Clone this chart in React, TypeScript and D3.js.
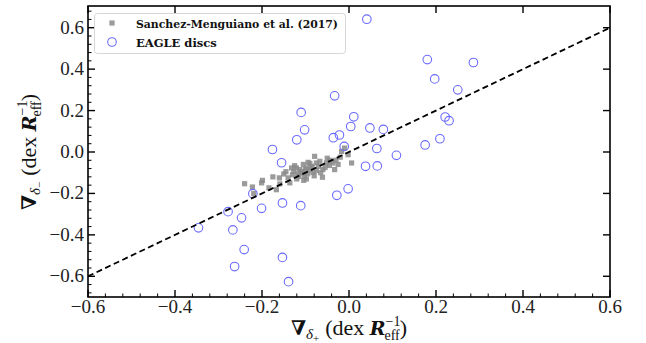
import React from "react";
import * as d3 from "d3";

const eagleX = [0.041, 0.180, 0.286, 0.197, 0.250, 0.221, 0.230, 0.048, 0.079, 0.209, 0.175, 0.064, 0.109, 0.038, 0.065,
  -0.033, 0.011, 0.004, -0.036, -0.022, -0.011, -0.110, -0.102, -0.120, -0.176, -0.155, -0.221, -0.028, -0.002,
  -0.153, -0.201, -0.111, -0.278, -0.247, -0.346, -0.267, -0.241, -0.153, -0.263, -0.139];
const eagleY = [0.641, 0.446, 0.432, 0.353, 0.300, 0.169, 0.151, 0.116, 0.109, 0.064, 0.034, 0.017, -0.016, -0.069, -0.067,
  0.271, 0.170, 0.123, 0.069, 0.082, 0.027, 0.191, 0.107, 0.059, 0.012, -0.052, -0.201, -0.209, -0.178,
  -0.246, -0.272, -0.259, -0.288, -0.318, -0.366, -0.376, -0.471, -0.509, -0.553, -0.626];

const smX = [-0.240, -0.222, -0.199, -0.201, -0.175, -0.184, -0.167, -0.159, -0.150, -0.136, -0.132, -0.127, -0.121, -0.113,
  -0.107, -0.102, -0.104, -0.098, -0.094, -0.086, -0.083, -0.079, -0.075, -0.067, -0.061, -0.060, -0.052, -0.044, -0.037,
  -0.033, -0.017, -0.002, 0.006, -0.010, -0.098, -0.115, -0.125, -0.090, -0.110, -0.095, -0.085, -0.070, -0.065, -0.118,
  -0.140, -0.145, -0.105, -0.090, -0.055, -0.045, -0.030, -0.025, -0.080, -0.100, -0.120, -0.130, -0.075, -0.050, -0.160,
  -0.020, -0.219];
const smY = [-0.153, -0.169, -0.137, -0.149, -0.120, -0.173, -0.182, -0.154, -0.106, -0.149, -0.077, -0.093, -0.077, -0.085,
  -0.101, -0.118, -0.137, -0.077, -0.050, -0.069, -0.098, -0.021, -0.053, -0.045, -0.122, -0.085, -0.053, -0.040, -0.053,
  -0.085, 0.003, -0.013, -0.053, 0.019, -0.130, -0.118, -0.066, -0.085, -0.095, -0.105, -0.075, -0.070, -0.100, -0.105,
  -0.125, -0.095, -0.060, -0.055, -0.075, -0.065, -0.040, -0.060, -0.115, -0.085, -0.130, -0.110, -0.090, -0.030, -0.125,
  -0.025, -0.200];

const xTicks = [-0.6, -0.4, -0.2, 0.0, 0.2, 0.4, 0.6];
const yTicks = [-0.6, -0.4, -0.2, 0.0, 0.2, 0.4, 0.6];
const oneToOne = [-0.6, 0.6];
const legendLabels = ["Sanchez-Menguiano et al. (2017)", "EAGLE discs"];

const W = 646, H = 343;
const L = 88, R = 610, T = 6, B = 297;

function fmt(v: number) {
  const s = Math.abs(v).toFixed(1);
  return v < -1e-9 ? "\u2212" + s : s;
}

function AxisLabel({ sub }: { sub: string }) {
  return (
    <>
      <tspan fontFamily="'DejaVu Serif', serif" fontWeight="bold" fontSize={20}>{"\u2207"}</tspan>
      <tspan fontStyle="italic" fontSize={15} dy={4}>{"\u03B4"}</tspan>
      <tspan fontSize={11} dy={3}>{sub}</tspan>
      <tspan dy={-7} dx={6}>(dex </tspan>
      <tspan fontFamily="'DejaVu Serif', serif" fontWeight="bold" fontStyle="italic" fontSize={19}>R</tspan>
      <tspan fontSize={14} dy={-9}>{"\u22121"}</tspan>
      <tspan fontSize={14} dy={14} dx={-16}>eff</tspan>
      <tspan dy={-5}>)</tspan>
    </>
  );
}

export default function App() {
  const x = d3.scaleLinear().domain([-0.6, 0.6]).range([L, R]);
  const y = d3.scaleLinear().domain([-0.7, 0.7]).range([B, T + 1]);
  const xMinor = d3.range(-0.6, 0.6001, 0.04).filter(v => !xTicks.some(t => Math.abs(t - v) < 1e-6));
  const yMinor = d3.range(-0.68, 0.6801, 0.04).filter(v => !yTicks.some(t => Math.abs(t - v) < 1e-6));
  const serif = "'DejaVu Serif', 'Liberation Serif', serif";
  const tickFont = "'Liberation Serif', serif";
  const blue = "#6b6bff";
  const grey = "#8a8a8a";
  const line = d3.line<number>().x(d => x(d)).y(d => y(d));
  return (
    <svg width={W} height={H} style={{ position: "absolute", left: 0, top: 0, background: "#fff" }}>
      <rect x={0} y={0} width={W} height={H} fill="#fff" />
      {smX.map((v, i) => (
        <rect key={"s" + i} x={x(v) - 2.6} y={y(smY[i]) - 2.6} width={5.2} height={5.2} fill={grey} fillOpacity={0.85} />
      ))}
      {eagleX.map((v, i) => (
        <circle key={"e" + i} cx={x(v)} cy={y(eagleY[i])} r={4.3} fill="none" stroke={blue} strokeWidth={1.1} />
      ))}
      <path d={line(oneToOne) || ""} stroke="#000" strokeWidth={1.8} strokeDasharray="6,3.5" fill="none" />
      <rect x={L} y={T} width={R - L} height={B - T} fill="none" stroke="#000" strokeWidth={1.6} />
      {xTicks.map(t => (
        <g key={"xt" + t}>
          <line x1={x(t)} x2={x(t)} y1={B} y2={B - 7} stroke="#000" strokeWidth={1.4} />
          <line x1={x(t)} x2={x(t)} y1={T} y2={T + 7} stroke="#000" strokeWidth={1.4} />
          <text x={x(t)} y={313} textAnchor="middle" fontFamily={tickFont} fontSize={19} fill="#222">{fmt(t)}</text>
        </g>
      ))}
      {xMinor.map(t => (
        <line key={"xm" + t} x1={x(t)} x2={x(t)} y1={B} y2={B - 3.5} stroke="#000" strokeWidth={1} />
      ))}
      {yTicks.map(t => (
        <g key={"yt" + t}>
          <line x1={L} x2={L + 7} y1={y(t)} y2={y(t)} stroke="#000" strokeWidth={1.4} />
          <line x1={R} x2={R - 7} y1={y(t)} y2={y(t)} stroke="#000" strokeWidth={1.4} />
          <text x={84} y={y(t) + 6} textAnchor="end" fontFamily={tickFont} fontSize={19} fill="#222">{fmt(t)}</text>
        </g>
      ))}
      {yMinor.map(t => (
        <line key={"ym" + t} x1={L} x2={L + 3.5} y1={y(t)} y2={y(t)} stroke="#000" strokeWidth={1} />
      ))}
      <rect x={94.5} y={13.5} width={251} height={40} rx={3} fill="#fff" fillOpacity={0.85} stroke="#d6d6d6" strokeWidth={1} />
      <rect x={112 - 2.6} y={23 - 2.6} width={5.2} height={5.2} fill={grey} fillOpacity={0.85} />
      <circle cx={112} cy={42} r={4.3} fill="none" stroke={blue} strokeWidth={1.1} />
      <text x={136} y={27.5} fontFamily={serif} fontWeight="bold" fontSize={11.5} fill="#111" textLength={202} lengthAdjust="spacingAndGlyphs">{legendLabels[0]}</text>
      <text x={136} y={46.5} fontFamily={serif} fontWeight="bold" fontSize={11.5} fill="#111">{legendLabels[1]}</text>
      <text x={349} y={335} textAnchor="middle" fontFamily={tickFont} fontSize={22} fill="#111">
        <AxisLabel sub="+" />
      </text>
      <text transform="translate(36,152) rotate(-90)" textAnchor="middle" fontFamily={tickFont} fontSize={22} fill="#111">
        <AxisLabel sub={"\u2212"} />
      </text>
    </svg>
  );
}
